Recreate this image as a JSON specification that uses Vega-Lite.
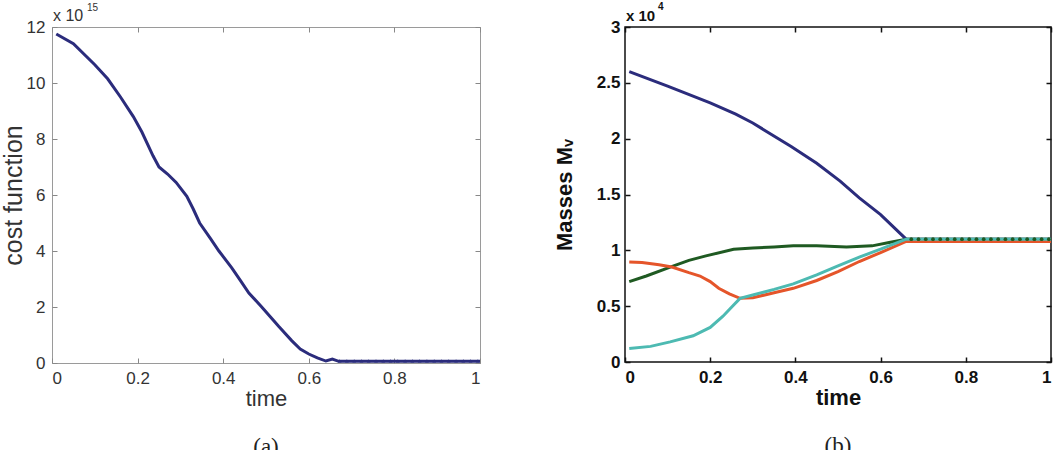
{
  "$schema": "https://vega.github.io/schema/vega-lite/v6.json",
  "padding": {"left": 0, "top": 1, "right": 0, "bottom": 0},
  "background": "white",
  "config": {"font": "Liberation Sans", "view": {"stroke": null}},
  "bounds": "flush",
  "spacing": 145,
  "datasets": {
    "cost": [
      {"t": 0.01, "v": 11.75}, {"t": 0.05, "v": 11.4}, {"t": 0.1, "v": 10.65}, {"t": 0.13, "v": 10.15},
      {"t": 0.16, "v": 9.5}, {"t": 0.19, "v": 8.8}, {"t": 0.21, "v": 8.25}, {"t": 0.236, "v": 7.4},
      {"t": 0.25, "v": 7.0}, {"t": 0.27, "v": 6.75}, {"t": 0.29, "v": 6.45}, {"t": 0.315, "v": 5.95},
      {"t": 0.33, "v": 5.5}, {"t": 0.345, "v": 5.0}, {"t": 0.37, "v": 4.45}, {"t": 0.39, "v": 4.0},
      {"t": 0.42, "v": 3.4}, {"t": 0.44, "v": 2.95}, {"t": 0.46, "v": 2.5}, {"t": 0.49, "v": 2.0},
      {"t": 0.51, "v": 1.65}, {"t": 0.53, "v": 1.3}, {"t": 0.56, "v": 0.8}, {"t": 0.58, "v": 0.5},
      {"t": 0.6, "v": 0.32}, {"t": 0.62, "v": 0.18}, {"t": 0.64, "v": 0.07}, {"t": 0.655, "v": 0.14},
      {"t": 0.67, "v": 0.06}, {"t": 1.0, "v": 0.06}
    ],
    "costPts": [
      {"t": 0.672, "v": 0.08}, {"t": 0.689, "v": 0.08}, {"t": 0.706, "v": 0.08}, {"t": 0.723, "v": 0.08},
      {"t": 0.74, "v": 0.08}, {"t": 0.757, "v": 0.08}, {"t": 0.774, "v": 0.08}, {"t": 0.791, "v": 0.08},
      {"t": 0.808, "v": 0.08}, {"t": 0.825, "v": 0.08}, {"t": 0.842, "v": 0.08}, {"t": 0.859, "v": 0.08},
      {"t": 0.876, "v": 0.08}, {"t": 0.893, "v": 0.08}, {"t": 0.91, "v": 0.08}, {"t": 0.927, "v": 0.08},
      {"t": 0.944, "v": 0.08}, {"t": 0.961, "v": 0.08}, {"t": 0.978, "v": 0.08}, {"t": 0.995, "v": 0.08}
    ],
    "masses": [
      {"s": "a", "t": 0.01, "v": 2.6}, {"s": "a", "t": 0.1, "v": 2.47}, {"s": "a", "t": 0.2, "v": 2.32},
      {"s": "a", "t": 0.26, "v": 2.22}, {"s": "a", "t": 0.3, "v": 2.14}, {"s": "a", "t": 0.39, "v": 1.93},
      {"s": "a", "t": 0.45, "v": 1.78}, {"s": "a", "t": 0.505, "v": 1.62}, {"s": "a", "t": 0.55, "v": 1.47},
      {"s": "a", "t": 0.6, "v": 1.32}, {"s": "a", "t": 0.66, "v": 1.1}, {"s": "a", "t": 1.0, "v": 1.1},
      {"s": "b", "t": 0.01, "v": 0.72}, {"s": "b", "t": 0.05, "v": 0.77}, {"s": "b", "t": 0.106, "v": 0.85},
      {"s": "b", "t": 0.15, "v": 0.91}, {"s": "b", "t": 0.19, "v": 0.95}, {"s": "b", "t": 0.255, "v": 1.01},
      {"s": "b", "t": 0.3, "v": 1.02}, {"s": "b", "t": 0.35, "v": 1.03}, {"s": "b", "t": 0.395, "v": 1.04},
      {"s": "b", "t": 0.45, "v": 1.04}, {"s": "b", "t": 0.52, "v": 1.03}, {"s": "b", "t": 0.58, "v": 1.04},
      {"s": "b", "t": 0.62, "v": 1.07}, {"s": "b", "t": 0.66, "v": 1.1}, {"s": "b", "t": 1.0, "v": 1.1},
      {"s": "c", "t": 0.01, "v": 0.895}, {"s": "c", "t": 0.04, "v": 0.89}, {"s": "c", "t": 0.08, "v": 0.87},
      {"s": "c", "t": 0.11, "v": 0.85}, {"s": "c", "t": 0.15, "v": 0.8}, {"s": "c", "t": 0.176, "v": 0.77},
      {"s": "c", "t": 0.2, "v": 0.72}, {"s": "c", "t": 0.22, "v": 0.66}, {"s": "c", "t": 0.245, "v": 0.61},
      {"s": "c", "t": 0.27, "v": 0.57}, {"s": "c", "t": 0.3, "v": 0.575}, {"s": "c", "t": 0.35, "v": 0.62},
      {"s": "c", "t": 0.395, "v": 0.66}, {"s": "c", "t": 0.45, "v": 0.73}, {"s": "c", "t": 0.5, "v": 0.81},
      {"s": "c", "t": 0.55, "v": 0.9}, {"s": "c", "t": 0.6, "v": 0.98}, {"s": "c", "t": 0.66, "v": 1.08},
      {"s": "c", "t": 1.0, "v": 1.08},
      {"s": "d", "t": 0.01, "v": 0.12}, {"s": "d", "t": 0.06, "v": 0.14}, {"s": "d", "t": 0.106, "v": 0.18},
      {"s": "d", "t": 0.16, "v": 0.235}, {"s": "d", "t": 0.2, "v": 0.31}, {"s": "d", "t": 0.23, "v": 0.41},
      {"s": "d", "t": 0.25, "v": 0.49}, {"s": "d", "t": 0.27, "v": 0.57}, {"s": "d", "t": 0.3, "v": 0.6},
      {"s": "d", "t": 0.35, "v": 0.65}, {"s": "d", "t": 0.395, "v": 0.7}, {"s": "d", "t": 0.45, "v": 0.78},
      {"s": "d", "t": 0.5, "v": 0.86}, {"s": "d", "t": 0.55, "v": 0.94}, {"s": "d", "t": 0.6, "v": 1.01},
      {"s": "d", "t": 0.66, "v": 1.1}, {"s": "d", "t": 1.0, "v": 1.1}
    ],
    "massPts": [
      {"t": 0.672, "v": 1.1}, {"t": 0.689, "v": 1.1}, {"t": 0.706, "v": 1.1}, {"t": 0.723, "v": 1.1},
      {"t": 0.74, "v": 1.1}, {"t": 0.757, "v": 1.1}, {"t": 0.774, "v": 1.1}, {"t": 0.791, "v": 1.1},
      {"t": 0.808, "v": 1.1}, {"t": 0.825, "v": 1.1}, {"t": 0.842, "v": 1.1}, {"t": 0.859, "v": 1.1},
      {"t": 0.876, "v": 1.1}, {"t": 0.893, "v": 1.1}, {"t": 0.91, "v": 1.1}, {"t": 0.927, "v": 1.1},
      {"t": 0.944, "v": 1.1}, {"t": 0.961, "v": 1.1}, {"t": 0.978, "v": 1.1}, {"t": 0.995, "v": 1.1}
    ]
  },
  "hconcat": [
    {
      "width": 428,
      "height": 336,
      "view": {"stroke": "#9a9a9a", "strokeWidth": 1},
      "title": {"text": "(a)", "orient": "bottom", "font": "Liberation Serif", "fontSize": 23, "fontWeight": "normal", "color": "#222", "offset": 27},
      "layer": [
        {
          "data": {"name": "cost"},
          "mark": {"type": "line", "color": "#2b2c7c", "strokeWidth": 3},
          "encoding": {
            "x": {"field": "t", "type": "quantitative", "scale": {"domain": [0, 1], "nice": false},
              "axis": {"orient": "bottom", "values": [0, 0.2, 0.4, 0.6, 0.8, 1], "format": "~g", "grid": false, "domain": false,
                "tickSize": -5, "tickColor": "#888", "labelPadding": 12, "labelFontSize": 17, "labelColor": "#333",
                "title": "time", "titleFontSize": 22, "titleFontWeight": "normal", "titleColor": "#333", "titlePadding": 2}},
            "y": {"field": "v", "type": "quantitative", "scale": {"domain": [0, 12], "nice": false},
              "axis": {"orient": "left", "values": [0, 2, 4, 6, 8, 10, 12], "grid": false, "domain": false,
                "tickSize": -5, "tickColor": "#888", "labelPadding": 12, "labelFontSize": 17, "labelColor": "#333",
                "title": "cost function", "titleFontSize": 25, "titleFontWeight": "normal", "titleColor": "#333", "titlePadding": 0}}
          }
        },
        {
          "data": {"name": "costPts"},
          "mark": {"type": "point", "shape": "triangle-up", "filled": true, "size": 14, "color": "#2b2c7c", "opacity": 1},
          "encoding": {
            "x": {"field": "t", "type": "quantitative", "scale": {"domain": [0, 1], "nice": false},
              "axis": {"orient": "top", "values": [0, 0.2, 0.4, 0.6, 0.8, 1], "labels": false, "grid": false, "domain": false,
                "tickSize": -5, "tickColor": "#888", "title": null}},
            "y": {"field": "v", "type": "quantitative", "scale": {"domain": [0, 12], "nice": false},
              "axis": {"orient": "right", "values": [0, 2, 4, 6, 8, 10, 12], "labels": false, "grid": false, "domain": false,
                "tickSize": -5, "tickColor": "#888", "title": null}}
          }
        },
        {
          "data": {"values": [{"x": 0, "y": 12, "label": "x 10"}]},
          "mark": {"type": "text", "align": "left", "baseline": "alphabetic", "dx": 1, "dy": -6, "fontSize": 16, "color": "#333"},
          "encoding": {"x": {"field": "x", "type": "quantitative", "axis": null}, "y": {"field": "y", "type": "quantitative", "axis": null}, "text": {"field": "label"}}
        },
        {
          "data": {"values": [{"x": 0, "y": 12, "label": "15"}]},
          "mark": {"type": "text", "align": "left", "baseline": "alphabetic", "dx": 35, "dy": -16, "fontSize": 10, "color": "#333"},
          "encoding": {"x": {"field": "x", "type": "quantitative", "axis": null}, "y": {"field": "y", "type": "quantitative", "axis": null}, "text": {"field": "label"}}
        }
      ],
      "resolve": {"axis": {"x": "independent", "y": "independent"}}
    },
    {
      "width": 426,
      "height": 335,
      "view": {"stroke": "#111", "strokeWidth": 1.5},
      "title": {"text": "(b)", "orient": "bottom", "font": "Liberation Serif", "fontSize": 23, "fontWeight": "normal", "color": "#222", "offset": 27},
      "layer": [
        {
          "data": {"name": "masses"},
          "mark": {"type": "line", "strokeWidth": 3},
          "encoding": {
            "x": {"field": "t", "type": "quantitative", "scale": {"domain": [0, 1], "nice": false},
              "axis": {"orient": "bottom", "values": [0, 0.2, 0.4, 0.6, 0.8, 1], "format": "~g", "grid": false, "domain": false,
                "tickSize": -5, "tickColor": "#111", "tickWidth": 1.5, "labelPadding": 12, "labelFontSize": 17, "labelFontWeight": "bold", "labelColor": "#111",
                "title": "time", "titleFontSize": 22, "titleFontWeight": "bold", "titleColor": "#111", "titlePadding": 2}},
            "y": {"field": "v", "type": "quantitative", "scale": {"domain": [0, 3], "nice": false},
              "axis": {"orient": "left", "values": [0, 0.5, 1, 1.5, 2, 2.5, 3], "format": "~g", "grid": false, "domain": false,
                "tickSize": -5, "tickColor": "#111", "tickWidth": 1.5, "labelPadding": 10, "labelFontSize": 17, "labelFontWeight": "bold", "labelColor": "#111",
                "title": "Masses Mᵥ", "titleFontSize": 22, "titleFontWeight": "bold", "titleColor": "#111", "titlePadding": 20}},
            "color": {"field": "s", "type": "nominal", "legend": null,
              "scale": {"domain": ["a", "b", "c", "d"], "range": ["#2b2c7c", "#1f5a22", "#e5552a", "#4dbab2"]}},
            "order": {"field": "s"}
          }
        },
        {
          "data": {"name": "massPts"},
          "mark": {"type": "point", "shape": "circle", "filled": true, "size": 14, "color": "#1f5a22", "opacity": 1},
          "encoding": {
            "x": {"field": "t", "type": "quantitative", "scale": {"domain": [0, 1], "nice": false},
              "axis": {"orient": "top", "values": [0, 0.2, 0.4, 0.6, 0.8, 1], "labels": false, "grid": false, "domain": false,
                "tickSize": -5, "tickColor": "#111", "tickWidth": 1.5, "title": null}},
            "y": {"field": "v", "type": "quantitative", "scale": {"domain": [0, 3], "nice": false},
              "axis": {"orient": "right", "values": [0, 0.5, 1, 1.5, 2, 2.5, 3], "labels": false, "grid": false, "domain": false,
                "tickSize": -5, "tickColor": "#111", "tickWidth": 1.5, "title": null}}
          }
        },
        {
          "data": {"values": [{"x": 0, "y": 3, "label": "x 10"}]},
          "mark": {"type": "text", "align": "left", "baseline": "alphabetic", "dx": 1, "dy": -6, "fontSize": 15, "fontWeight": "bold", "color": "#111"},
          "encoding": {"x": {"field": "x", "type": "quantitative", "axis": null}, "y": {"field": "y", "type": "quantitative", "axis": null}, "text": {"field": "label"}}
        },
        {
          "data": {"values": [{"x": 0, "y": 3, "label": "4"}]},
          "mark": {"type": "text", "align": "left", "baseline": "alphabetic", "dx": 33, "dy": -17, "fontSize": 10, "fontWeight": "bold", "color": "#111"},
          "encoding": {"x": {"field": "x", "type": "quantitative", "axis": null}, "y": {"field": "y", "type": "quantitative", "axis": null}, "text": {"field": "label"}}
        }
      ],
      "resolve": {"axis": {"x": "independent", "y": "independent"}}
    }
  ]
}
